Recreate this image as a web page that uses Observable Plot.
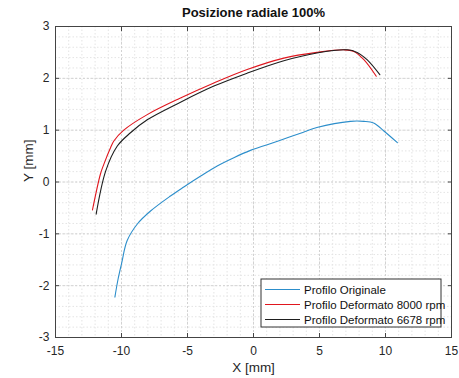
<!DOCTYPE html>
<html><head><meta charset="utf-8">
<script src="https://cdn.jsdelivr.net/npm/d3@7"></script>
<script src="https://cdn.jsdelivr.net/npm/@observablehq/plot@0.6"></script>
<style>body{margin:0;background:#fff;font-family:"Liberation Sans",Arial,sans-serif;}</style>
</head><body><div id="chart"></div>
<script>
const title = "Posizione radiale 100%";
const xLabel = "X [mm]";
const yLabel = "Y [mm]";
const seriesNames = ["Profilo Originale", "Profilo Deformato 8000 rpm", "Profilo Deformato 6678 rpm"];
const seriesColors = ["#2c8ecb", "#e0161e", "#1e1e1e"];
const xTicks = [-15, -10, -5, 0, 5, 10, 15];
const yTicks = [-3, -2, -1, 0, 1, 2, 3];

const xOrig = [-10.5, -10.28, -10.0, -9.57, -8.8, -7.8, -6.29, -5.28, -4.0, -2.75, -1.49, -0.23, 1.04, 2.3, 3.56, 4.8, 7.35, 8.36, 9.1, 9.9, 10.9];
const yOrig = [-2.22, -1.9, -1.58, -1.13, -0.81, -0.56, -0.27, -0.096, 0.115, 0.31, 0.47, 0.61, 0.72, 0.83, 0.94, 1.05, 1.17, 1.17, 1.14, 0.98, 0.76];
const x8000 = [-12.2, -11.6, -11.34, -10.83, -10.58, -9.83, -8.05, -5.53, -3.0, -0.48, 2.3, 4.8, 6.84, 7.6, 8.36, 9.3];
const y8000 = [-0.54, 0.15, 0.34, 0.66, 0.79, 1.0, 1.30, 1.62, 1.91, 2.17, 2.39, 2.5, 2.55, 2.52, 2.36, 2.04];
const x6678 = [-11.92, -11.2, -10.33, -9.32, -8.05, -5.53, -3.0, -0.48, 2.3, 4.8, 7.1, 7.85, 8.6, 9.57];
const y6678 = [-0.62, 0.21, 0.69, 0.95, 1.2, 1.54, 1.85, 2.1, 2.34, 2.49, 2.55, 2.5, 2.36, 2.07];

const xs = [xOrig, x8000, x6678], ys = [yOrig, y8000, y6678];
const data = [];
xs.forEach((arr, s) => arr.forEach((x, i) => data.push({x, y: ys[s][i], s: seriesNames[s]})));

const xMinor = d3.range(-15, 15.01, 1);
const yMinor = d3.range(-3, 3.001, 0.2).map(v => +v.toFixed(2));

const W = 459, H = 378, mL = 55, mR = 8, mT = 26, mB = 41;
const fontCss = "Liberation Sans, Arial, sans-serif";

const plot = Plot.plot({
  width: W, height: H,
  marginLeft: mL, marginRight: mR, marginTop: mT, marginBottom: mB,
  style: {fontFamily: fontCss, fontSize: "12px", color: "#262626", background: "#fff"},
  x: {domain: [-15, 15], label: null},
  y: {domain: [-3, 3], label: null},
  color: {domain: seriesNames, range: seriesColors},
  marks: [
    Plot.ruleX(xMinor, {stroke: "#e4e4e4", strokeDasharray: "1.5,2"}),
    Plot.ruleY(yMinor, {stroke: "#e4e4e4", strokeDasharray: "1.5,2"}),
    Plot.ruleX(xTicks, {stroke: "#d2d2d2", strokeDasharray: "2,2"}),
    Plot.ruleY(yTicks, {stroke: "#d2d2d2", strokeDasharray: "2,2"}),
    Plot.line(data, {x: "x", y: "y", z: "s", stroke: "s", strokeWidth: 1.1, curve: "catmull-rom"}),
    Plot.frame({stroke: "#444", strokeWidth: 1}),
    // inward ticks
    Plot.axisX({anchor: "bottom", ticks: xTicks, tickSize: 4, dy: -4, tickFormat: () => "", stroke: "#444"}),
    Plot.axisX({anchor: "top", ticks: xTicks, tickSize: 4, dy: 4, tickFormat: () => "", stroke: "#444"}),
    Plot.axisY({anchor: "left", ticks: yTicks, tickSize: 4, dx: 4, tickFormat: () => "", stroke: "#444"}),
    Plot.axisY({anchor: "right", ticks: yTicks, tickSize: 4, dx: -4, tickFormat: () => "", stroke: "#444"}),
    // labels
    Plot.axisX({anchor: "bottom", ticks: xTicks, tickSize: 0, tickPadding: 9, fontSize: 12, label: null, fill: "#262626", tickFormat: d => String(d)}),
    Plot.axisY({anchor: "left", ticks: yTicks, tickSize: 0, tickPadding: 6, fontSize: 12, label: null, fill: "#262626", tickFormat: d => String(d)}),
    Plot.text([title], {frameAnchor: "top", dy: -19, text: d => d, fontWeight: "bold", fontSize: 13, fill: "#111"}),
    Plot.text([xLabel], {frameAnchor: "bottom", dy: 34, text: d => d, fontSize: 13.5, fill: "#262626"}),
    Plot.text([yLabel], {frameAnchor: "left", dx: -27, rotate: -90, text: d => d, fontSize: 13.5, fill: "#262626"})
  ]
});
document.getElementById("chart").appendChild(plot);

// legend (pixel-placed box, entries from series arrays)
const svg = d3.select(plot);
const lg = svg.append("g").attr("font-family", fontCss).attr("font-size", 11.5).attr("text-anchor", "start");
const bx = 261, by = 279, bw = 180, bh = 48;
lg.append("rect").attr("x", bx).attr("y", by).attr("width", bw).attr("height", bh)
  .attr("fill", "#fff").attr("stroke", "#333").attr("stroke-width", 1);
seriesNames.forEach((name, i) => {
  const yy = by + 10.5 + i * 15;
  lg.append("line").attr("x1", bx + 4).attr("x2", bx + 39).attr("y1", yy).attr("y2", yy)
    .attr("stroke", seriesColors[i]).attr("stroke-width", 1.1);
  lg.append("text").attr("x", bx + 43).attr("y", yy).attr("dy", "0.36em")
    .attr("text-anchor", "start").attr("fill", "#111").text(name);
});
</script>
</body></html>
